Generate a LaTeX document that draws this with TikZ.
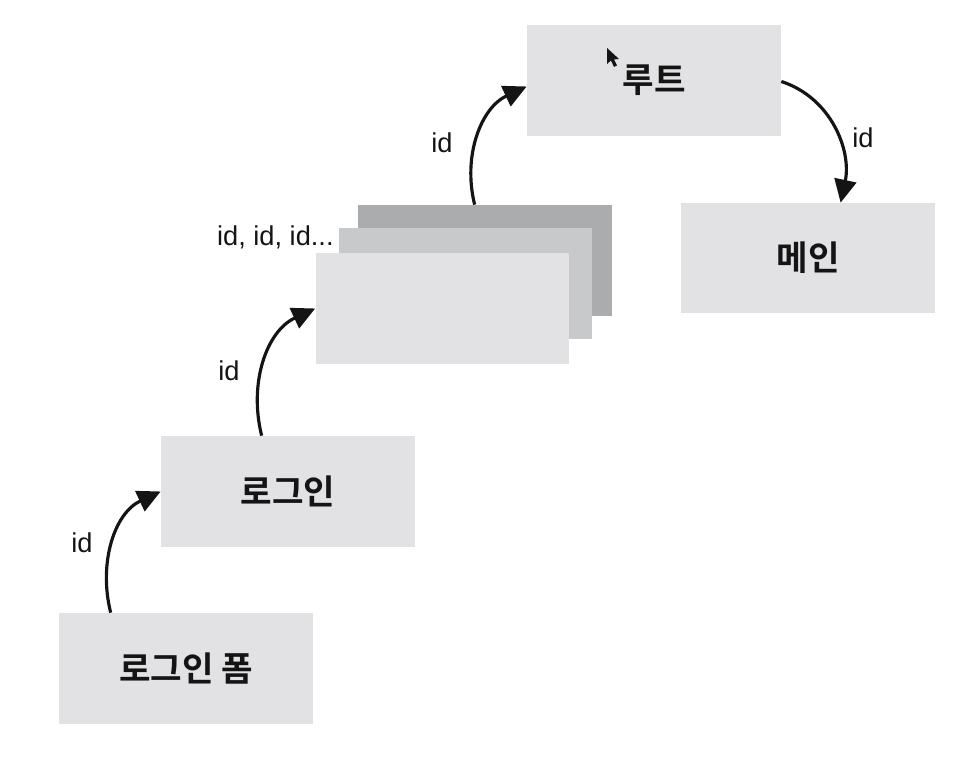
\documentclass[tikz,border=0pt]{standalone}
\usepackage{fontspec}
\setmainfont{Liberation Sans}
\newfontfamily\krfont{Noto Sans CJK KR}[BoldFont={* Bold}]
\usetikzlibrary{arrows.meta,calc}

\definecolor{boxlight}{HTML}{E2E2E4}
\definecolor{boxmid}{HTML}{C8C9CB}
\definecolor{boxdark}{HTML}{ABACAE}
\definecolor{inkcol}{HTML}{141414}

\tikzset{
  card/.style={fill=boxlight, draw=none, minimum width=5.08cm, minimum height=2.22cm,
               inner sep=0pt, font=\krfont\bfseries\fontsize{19.5}{22}\selectfont, text=inkcol},
  flow/.style={line width=1.8pt, draw=inkcol,
               -{Triangle[length=0.46cm,width=0.44cm]}},
  idlabel/.style={font=\fontsize{15.5}{17}\selectfont, text=inkcol, inner sep=0pt}
}

\begin{document}
\begin{tikzpicture}[x=0.02cm, y=-0.02cm]
  \useasboundingbox (0,0) rectangle (978,766);
  \fill[white] (0,0) rectangle (978,766);

  % the stack of pages
  \node[card, fill=boxdark] (back) at (485,260.5) {};
  \node[card, fill=boxmid]  (middle) at (465.5,283.5) {};
  \node[card]               (front) at (442.5,308.5) {};

  % single screens
  \node[card] (form)  at (186,668.5) {로그인 폼};
  \node[card] (login) at (288,491.5) {로그인};
  \node[card] (root)  at (654,80.5)  {루트};
  \node[card, minimum height=2.2cm] (main) at (808,258) {메인};

  % mouse pointer over the root card
  \fill[inkcol] (607,48) -- (607,64) -- (611,60.5) -- (614,67) -- (617,65.5) -- (614,59.5) -- (619,59) -- cycle;

  % ids passed between screens
  \draw[flow] ([xshift=1.04cm]form.north west)
      to[out=104, in=205] (login.west);
  \draw[flow] ([xshift=2.02cm]login.north west)
      to[out=104, in=205] (front.west);
  \draw[flow] ([xshift=2.34cm]back.north west)
      to[out=104, in=205] ([yshift=-0.12cm]root.west);
  \draw[flow] ([yshift=-0.02cm]root.east)
      to[out=-18, in=78] ([xshift=3.2cm]main.north west);

  \node[idlabel] (id1) at (82,543) {id};
  \node[idlabel] (id2) at (229,371) {id};
  \node[idlabel] (id3) at (442,143) {id};
  \node[idlabel] (id4) at (863,138) {id};
  \node[idlabel, anchor=east] (ids) at (334,237) {id, id, id...};
\end{tikzpicture}
\end{document}
